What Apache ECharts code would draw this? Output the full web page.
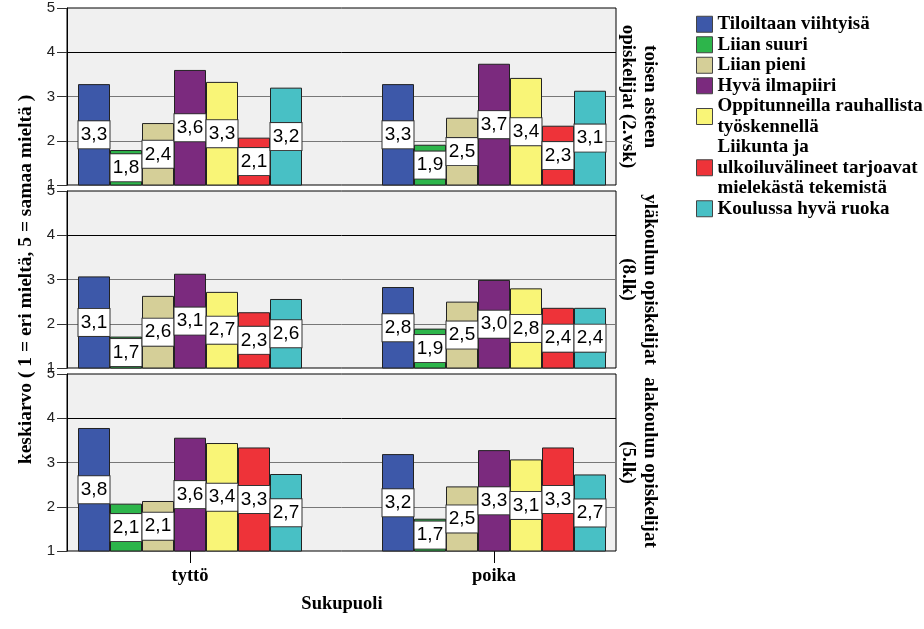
<!DOCTYPE html>
<html>
<head>
<meta charset="utf-8">
<script src="https://cdn.jsdelivr.net/npm/echarts@6/dist/echarts.min.js"></script>
<style>
html,body{margin:0;padding:0;background:#fff;}
#chart{width:924px;height:629px;}
</style>
</head>
<body>
<div id="chart"></div>
<script>
// ---- data ----
const categories = ['tyttö', 'poika'];
const seriesNames = [
  'Tiloiltaan viihtyisä',
  'Liian suuri',
  'Liian pieni',
  'Hyvä ilmapiiri',
  'Oppitunneilla rauhallista työskennellä',
  'Liikunta ja ulkoiluvälineet tarjoavat mielekästä tekemistä',
  'Koulussa hyvä ruoka'
];
const legendLabels = [
  'Tiloiltaan viihtyisä',
  'Liian suuri',
  'Liian pieni',
  'Hyvä ilmapiiri',
  'Oppitunneilla rauhallista\ntyöskennellä',
  'Liikunta ja\nulkoiluvälineet tarjoavat\nmielekästä tekemistä',
  'Koulussa hyvä ruoka'
];
const panelTitles = [
  'toisen asteen\nopiskelijat (2.vsk)',
  'yläkoulun opiskelijat\n(8.lk)',
  'alakoulun opiskelijat\n(5.lk)'
];
// values per series: [tyttö, poika]
const toisenAsteenValues = [
  [3.28, 3.28], [1.79, 1.91], [2.40, 2.52], [3.60, 3.74], [3.33, 3.42], [2.07, 2.34], [3.20, 3.13]
];
const ylakouluValues = [
  [3.07, 2.83], [1.71, 1.89], [2.63, 2.50], [3.13, 2.99], [2.72, 2.80], [2.26, 2.36], [2.56, 2.36]
];
const alakouluValues = [
  [3.78, 3.19], [2.07, 1.73], [2.13, 2.46], [3.56, 3.28], [3.44, 3.07], [3.34, 3.34], [2.74, 2.73]
];
const yTicks = [1, 5, 1]; // min, max, interval
const yAxisTitle = 'keskiarvo ( 1 = eri mieltä, 5 = samaa mieltä )';
const xAxisTitle = 'Sukupuoli';

// ---- styling ----
const colors = ['#3d58a9', '#2db54b', '#d5cf98', '#7b2a7e', '#f9f577', '#ee3339', '#48c0c5'];
const panelValues = [toisenAsteenValues, ylakouluValues, alakouluValues];
const panelTops = [8, 191, 374];
const panelH = 177;
const serif = '"Liberation Serif", "Times New Roman", serif';
const sans = '"Liberation Sans", Arial, sans-serif';

const grid = [], xAxis = [], yAxis = [], series = [], graphic = [];
panelTops.forEach((top) => {
  grid.push({left: 67, width: 549, top: top, height: panelH, show: true,
    backgroundColor: '#f0f0f0', borderColor: '#000', borderWidth: 1, containLabel: false});
});
panelTops.forEach((top) => {
  grid.push({left: 38, width: 608, top: top, height: panelH, containLabel: false});
});
for (let p = 0; p < 3; p++) {
  xAxis.push({gridIndex: p, type: 'category', data: categories, show: false});
  yAxis.push({
    gridIndex: p, type: 'value', min: yTicks[0], max: yTicks[1], interval: yTicks[2],
    name: p === 1 ? yAxisTitle : '',
    nameLocation: 'middle', nameGap: 19, nameRotate: 90,
    nameTextStyle: {fontFamily: serif, fontWeight: 'bold', fontSize: 19.5, color: '#000'},
    axisLine: {show: true, lineStyle: {color: '#000', width: 1}},
    axisTick: {show: true, length: 10, lineStyle: {color: '#333'}},
    axisLabel: {margin: 12, color: '#222', fontFamily: sans, fontSize: 15},
    splitLine: {show: true, showMinLine: false, showMaxLine: false,
      lineStyle: {color: ['#777', '#777', '#000'], width: 1}}
  });
}
for (let p = 0; p < 3; p++) {
  const bottom = p === 2;
  xAxis.push({
    gridIndex: 3 + p, type: 'category', data: categories, boundaryGap: true,
    name: bottom ? xAxisTitle : '', nameLocation: 'middle', nameGap: 44,
    nameTextStyle: {fontFamily: serif, fontWeight: 'bold', fontSize: 18.5, color: '#000'},
    axisLine: {show: false},
    axisTick: {show: bottom, alignWithLabel: true, length: 12, lineStyle: {color: '#000'}},
    axisLabel: {show: bottom, margin: 16, fontFamily: serif, fontWeight: 'bold', fontSize: 18.5, color: '#000'}
  });
  yAxis.push({gridIndex: 3 + p, type: 'value', min: yTicks[0], max: yTicks[1], interval: yTicks[2], show: false});
}
const fmt = v => v.value.toFixed(1).replace('.', ',');
panelValues.forEach((vals, p) => {
  seriesNames.forEach((name, s) => {
    series.push({
      type: 'bar', name: name, xAxisIndex: 3 + p, yAxisIndex: 3 + p,
      data: vals[s], barWidth: 32, barGap: '0%', clip: true,
      itemStyle: {color: colors[s], borderColor: '#222', borderWidth: 1},
      label: {show: true, position: 'inside', formatter: fmt, color: '#000',
        fontFamily: sans, fontSize: 19, lineHeight: 19,
        backgroundColor: '#fff', borderColor: '#333', borderWidth: 1,
        width: 31, align: 'center', padding: [4, 0, 4, 0]},
      emphasis: {disabled: true}
    });
  });
  graphic.push({
    type: 'text', x: 639, y: panelTops[p] + panelH / 2, rotation: -Math.PI / 2,
    style: {text: panelTitles[p], align: 'center', verticalAlign: 'middle',
      font: 'bold 19px ' + serif, lineHeight: 22, fill: '#000', textAlign: 'center'}
  });
});

const chart = echarts.init(document.getElementById('chart'), null, {renderer: 'canvas'});
chart.setOption({
  animation: false,
  backgroundColor: '#fff',
  grid, xAxis, yAxis, series, graphic,
  legend: {
    data: seriesNames, orient: 'vertical', left: 691, top: 9,
    icon: 'rect', itemWidth: 16, itemHeight: 16, itemGap: 0,
    itemStyle: {borderColor: '#444', borderWidth: 1},
    formatter: name => legendLabels[seriesNames.indexOf(name)],
    textStyle: {fontFamily: serif, fontWeight: 'bold', fontSize: 19, color: '#000', lineHeight: 20.5},
    selectedMode: false
  }
});
</script>
</body>
</html>
